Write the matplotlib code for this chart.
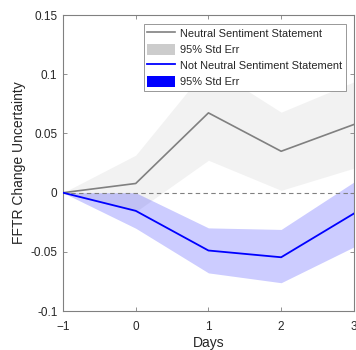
import matplotlib.pyplot as plt
from matplotlib.lines import Line2D
from matplotlib.patches import Patch

plt.rcParams["font.family"] = ["Liberation Sans", "DejaVu Sans"]

days = [-1, 0, 1, 2, 3]

# Neutral sentiment statements: mean response and 95% band
neutral_mean = [0.0, 0.0078, 0.0674, 0.035, 0.0576]
neutral_lo = [0.0, -0.016, 0.0274, 0.002, 0.0207]
neutral_hi = [0.0, 0.0317, 0.107, 0.068, 0.0936]

# Not neutral sentiment statements: mean response and 95% band
other_mean = [0.0, -0.0153, -0.0488, -0.0545, -0.0176]
other_lo = [0.0, -0.030, -0.0677, -0.076, -0.0458]
other_hi = [0.0, 0.0, -0.0297, -0.031, 0.009]

x_ticks = [-1, 0, 1, 2, 3]
y_ticks = [-0.1, -0.05, 0, 0.05, 0.1, 0.15]
y_ticklabels = ["-0.1", "-0.05", "0", "0.05", "0.1", "0.15"]

spine_col = "#808080"
text_col = "#262626"

fig = plt.figure(figsize=(3.56, 3.5), dpi=100)
ax = fig.add_axes([0.177, 0.111, 0.817, 0.846])

ax.fill_between(days, neutral_lo, neutral_hi, color="#cccccc", alpha=0.25,
                linewidth=0, zorder=1)
ax.fill_between(days, other_lo, other_hi, color="#0000ff", alpha=0.2,
                linewidth=0, zorder=2)
ax.axhline(0, color="#808080", linestyle=(0, (4, 3)), linewidth=0.8, zorder=3)
ax.plot(days, neutral_mean, color="#808080", linewidth=1.2, zorder=4)
ax.plot(days, other_mean, color="#0000ff", linewidth=1.3, zorder=5)

ax.set_xlim(-1, 3)
ax.set_ylim(-0.1, 0.15)
ax.set_xticks(x_ticks)
ax.set_yticks(y_ticks)
ax.set_yticklabels(y_ticklabels)
ax.tick_params(direction="in", top=True, right=True, length=3, width=0.6,
               color=spine_col, labelsize=8.5, labelcolor=text_col)
ax.tick_params(axis="x", pad=7)
ax.tick_params(axis="y", pad=4)
for s in ax.spines.values():
    s.set_color(spine_col)
    s.set_linewidth(0.8)

ax.set_xlabel("Days", fontsize=10, color=text_col, labelpad=2)
ax.set_ylabel("FFTR Change Uncertainty", fontsize=10, color=text_col, labelpad=3)

handles = [
    Line2D([], [], color="#808080", linewidth=1.2),
    Patch(facecolor="#cccccc", edgecolor="none"),
    Line2D([], [], color="#0000ff", linewidth=1.3),
    Patch(facecolor="#0000ff", edgecolor="none"),
]
labels = ["Neutral Sentiment Statement", "95% Std Err",
          "Not Neutral Sentiment Statement", "95% Std Err"]
leg = ax.legend(handles, labels, loc="upper right", bbox_to_anchor=(0.972, 0.97),
                fontsize=7.9, frameon=True, fancybox=False, framealpha=1,
                edgecolor="#888888", borderpad=0.35, labelspacing=0.42,
                handlelength=2.5, handleheight=1.2, handletextpad=0.45,
                borderaxespad=0.0)
leg.get_frame().set_linewidth(0.6)
for t in leg.get_texts():
    t.set_color(text_col)

fig.savefig("out.png", dpi=100)
